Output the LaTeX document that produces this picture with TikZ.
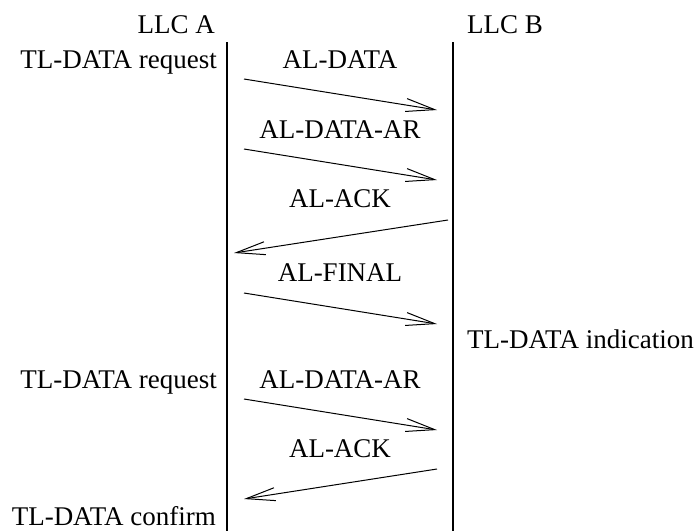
\documentclass[tikz,border=0pt]{standalone}
\usepackage{fontspec}
\setmainfont{Liberation Serif}
\usetikzlibrary{arrows.meta}
\begin{document}
\begin{tikzpicture}[x=1pt,y=-1pt,
  lbl/.style={font=\fontsize{27}{30}\selectfont, inner sep=0pt, anchor=base},
  lblr/.style={lbl, anchor=base east},
  lbll/.style={lbl, anchor=base west},
  life/.style={line width=2pt},
  msg/.style={line width=1pt, -{Straight Barb[length=29pt,width=13pt]}}]
\useasboundingbox (0,0) rectangle (696,531);
% lifelines
\coordinate (atop) at (227,42);
\coordinate (abot) at (227,531);
\coordinate (btop) at (453,42);
\coordinate (bbot) at (453,531);
\draw[life] (atop) -- (abot);
\draw[life] (btop) -- (bbot);
% headers
\node[lblr] (hA) at (215,33) {LLC A};
\node[lbll] (hB) at (467,33) {LLC B};
% side labels
\node[lblr] (req1) at (217,68) {TL-DATA request};
\node[lbll] (ind) at (467,348) {TL-DATA indication};
\node[lblr] (req2) at (217,388) {TL-DATA request};
\node[lblr] (conf) at (216,525) {TL-DATA confirm};
% message labels
\node[lbl] (m1) at (340,68) {AL-DATA};
\node[lbl] (m2) at (340,138) {AL-DATA-AR};
\node[lbl] (m3) at (340,207) {AL-ACK};
\node[lbl] (m4) at (340,281) {AL-FINAL};
\node[lbl] (m5) at (340,388) {AL-DATA-AR};
\node[lbl] (m6) at (340,457) {AL-ACK};
% message arrow end points
\coordinate (s1) at (244,79);  \coordinate (e1) at (437,110);
\coordinate (s2) at (244,149); \coordinate (e2) at (437,180);
\coordinate (s3) at (448,220); \coordinate (e3) at (234,253);
\coordinate (s4) at (244,293); \coordinate (e4) at (437,324);
\coordinate (s5) at (244,399); \coordinate (e5) at (437,430);
\coordinate (s6) at (437,469); \coordinate (e6) at (244,499);
\draw[msg] (s1) -- (e1);
\draw[msg] (s2) -- (e2);
\draw[msg] (s3) -- (e3);
\draw[msg] (s4) -- (e4);
\draw[msg] (s5) -- (e5);
\draw[msg] (s6) -- (e6);
\end{tikzpicture}
\end{document}
